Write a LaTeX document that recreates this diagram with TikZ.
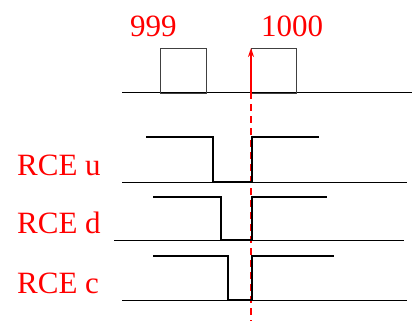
\documentclass[tikz,border=0pt]{standalone}
\usepackage{fontspec}
\setmainfont{Liberation Serif}
\usetikzlibrary{arrows.meta}
\begin{document}
\begin{tikzpicture}[x=1pt,y=-1pt,
  lbl/.style={text=red,inner sep=0pt,anchor=base west,font=\fontsize{31}{31}\selectfont},
  axis/.style={line width=0.9pt,black},
  wave/.style={line width=2.2pt,black,line join=miter},
  slot/.style={line width=0.9pt,black!75},
  marker/.style={red,line width=1.6pt,dash pattern=on 7pt off 5pt},
  tick/.style={red,line width=1.6pt,-{Stealth[length=9pt,width=6pt]}}]
\useasboundingbox (0,0) rectangle (415,321);
% clock slots
\draw[axis] (122,92) -- (412,92);
\draw[slot] (160,48) rectangle (206,93);
\draw[slot] (251,48) rectangle (296,93);
\node[lbl] (n999) at (130,37) {999};
\node[lbl] (n1000) at (261,37) {1000};
% sampling instant
\coordinate (mTop) at (251,92);
\coordinate (mTip) at (251,48);
\coordinate (mBot) at (251,321);
\draw[marker] (mTop) -- (mBot);
\draw[tick] (mTop) -- (mTip);
% RCE u
\node[lbl] (ru) at (17,175) {RCE u};
\draw[axis] (122,182) -- (407,182);
\draw[wave] (146,137) -- (213,137) -- (213,182) -- (252,182) -- (252,137) -- (319,137);
% RCE d
\node[lbl] (rd) at (17,233) {RCE d};
\draw[axis] (114,240) -- (404,240);
\draw[wave] (153,197) -- (221,197) -- (221,240) -- (252,240) -- (252,197) -- (327,197);
% RCE c
\node[lbl] (rc) at (17,293) {RCE c};
\draw[axis] (122,300) -- (407,300);
\draw[wave] (153,256) -- (228,256) -- (228,300) -- (252,300) -- (252,256) -- (334,256);
\end{tikzpicture}
\end{document}
